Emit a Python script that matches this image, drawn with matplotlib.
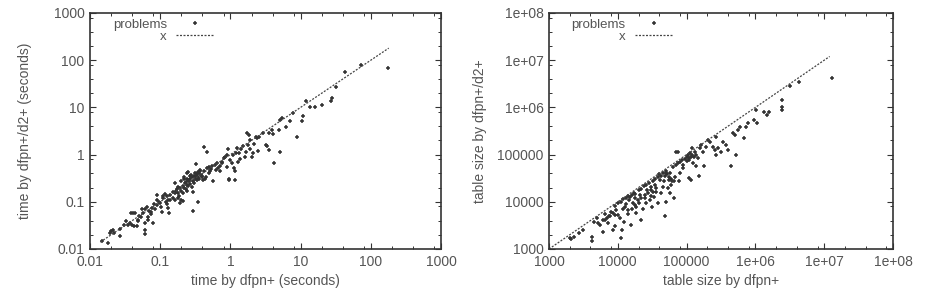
import matplotlib
matplotlib.use("Agg")
import matplotlib.pyplot as plt
from matplotlib.ticker import LogLocator, NullFormatter

# ---------------- data: left panel (time, seconds) ----------------
time_dfpn = [
    0.015, 0.018, 0.019, 0.020, 0.021, 0.022, 0.027, 0.027, 0.031, 0.037,
    0.038, 0.041, 0.044, 0.040, 0.042, 0.046, 0.049, 0.053, 0.057, 0.055,
    0.060, 0.065, 0.060, 0.061, 0.061, 0.068, 0.068, 0.073, 0.077, 0.080,
    0.081, 0.089, 0.089, 0.095, 0.099, 0.101, 0.105, 0.108, 0.117, 0.124,
    0.124, 0.128, 0.132, 0.138, 0.153, 0.160, 0.172, 0.181, 0.185, 0.190,
    0.200, 0.210, 0.200, 0.220, 0.225, 0.230, 0.237, 0.243, 0.250, 0.265,
    0.275, 0.280, 0.290, 0.295, 0.310, 0.320, 0.330, 0.335, 0.350, 0.360,
    0.370, 0.375, 0.390, 0.410, 0.420, 0.460, 0.450, 0.490, 0.510, 0.570,
    0.620, 0.670, 0.720, 0.770, 0.840, 0.890, 0.910, 0.940, 0.970, 0.980,
    1.04, 1.10, 1.11, 1.15, 1.17, 1.25, 1.34, 1.37, 1.67, 1.73,
    1.85, 1.80, 2.0, 2.1, 2.2, 2.35, 2.55, 2.95, 3.2, 3.3,
    3.5, 3.6, 3.9, 4.1, 4.2, 5.0, 5.1, 5.1, 5.5, 6.2,
    7.0, 7.9, 8.9, 10.4, 10.7, 12.0, 13.5, 16.0, 20.0, 27.0,
    28.0, 32.0, 43.0, 72.0, 174.0,
    0.11, 0.13, 0.14, 0.15, 0.16, 0.17, 0.18, 0.19, 0.20, 0.21,
    0.22, 0.23, 0.24, 0.25, 0.26, 0.27, 0.28, 0.29, 0.30, 0.31,
    0.32, 0.33, 0.34, 0.35, 0.36, 0.38, 0.40, 0.42, 0.44, 0.47,
    0.50, 0.53, 0.55, 0.60, 0.30, 0.27, 0.24, 0.21, 0.18, 0.16,
    0.12, 0.09, 0.07, 0.075, 0.085, 0.05, 0.048, 0.035, 0.033,
    1.2, 1.4, 1.5, 0.75, 0.80, 0.65, 1.9, 2.4, 0.70, 0.90,
    1.3, 1.6, 2.5, 1.9, 0.22, 0.25,
]
time_d2 = [
    0.015, 0.0135, 0.022, 0.024, 0.025, 0.022, 0.019, 0.026, 0.032, 0.036,
    0.057, 0.057, 0.057, 0.032, 0.030, 0.031, 0.041, 0.047, 0.057, 0.072,
    0.072, 0.079, 0.035, 0.025, 0.021, 0.041, 0.048, 0.055, 0.073, 0.036,
    0.090, 0.110, 0.140, 0.100, 0.093, 0.079, 0.062, 0.130, 0.147, 0.130,
    0.090, 0.073, 0.057, 0.109, 0.160, 0.246, 0.190, 0.210, 0.130, 0.093,
    0.110, 0.105, 0.270, 0.340, 0.250, 0.190, 0.400, 0.230, 0.290, 0.350,
    0.370, 0.210, 0.065, 0.160, 0.400, 0.630, 0.340, 0.290, 0.100, 0.400,
    0.470, 0.440, 0.340, 0.290, 1.470, 1.150, 0.340, 0.400, 0.440, 0.270,
    0.480, 0.520, 0.560, 0.660, 0.910, 1.000, 1.330, 0.300, 0.290, 0.770,
    0.66, 1.00, 0.52, 0.45, 0.29, 1.36, 1.09, 0.80, 1.15, 2.8,
    2.6, 1.6, 0.91, 1.1, 1.7, 2.4, 2.4, 2.8, 1.6, 1.5,
    1.27, 2.9, 3.4, 2.7, 0.66, 3.3, 5.5, 1.15, 6.1, 3.9,
    5.1, 7.5, 2.4, 5.1, 6.5, 13.7, 10.0, 10.0, 11.0, 14.0,
    16.0, 27.0, 55.0, 80.0, 68.0,
    0.12, 0.11, 0.14, 0.12, 0.15, 0.17, 0.15, 0.20, 0.17, 0.22,
    0.20, 0.26, 0.30, 0.22, 0.28, 0.31, 0.33, 0.27, 0.35, 0.30,
    0.36, 0.38, 0.33, 0.42, 0.31, 0.37, 0.36, 0.45, 0.30, 0.52,
    0.55, 0.50, 0.58, 0.60, 0.25, 0.24, 0.17, 0.15, 0.12, 0.11,
    0.10, 0.085, 0.065, 0.060, 0.070, 0.050, 0.040, 0.033, 0.040,
    1.1, 1.3, 1.5, 0.70, 0.85, 0.65, 2.0, 2.3, 0.45, 0.55,
    0.70, 0.90, 1.2, 1.3, 0.30, 0.42,
]

# ---------------- data: right panel (table size) ----------------
size_dfpn = [
    2000, 2100, 2280, 2730, 3100, 4250, 4250, 5150, 6100, 6450,
    7200, 7600, 8500, 9500, 10000, 10900, 11300, 11700, 12200, 12600,
    13300, 14100, 14500, 15700, 16600, 17500, 18100, 18600, 19600, 20800,
    21900, 23300, 24500, 26000, 27400, 29000, 30800, 31800, 33300, 34400,
    36200, 38100, 40500, 42600, 44800, 47100, 48600, 49700, 50900, 53400,
    55300, 56500, 59900, 63400, 64900, 67200, 71300, 75500, 78400, 81300,
    89000, 100000, 105000, 110000, 113000, 117000, 121000, 124000, 131000, 135000,
    139000, 147000, 155000, 163000, 172000, 182000, 193000, 204000, 216000, 242000,
    256000, 265000, 271000, 287000, 320000, 338000, 377000, 399000, 446000, 472000,
    500000, 528000, 559000, 592000, 678000, 741000, 784000, 970000, 1020000, 1050000,
    1320000, 1480000, 1600000, 2400000, 2400000, 2400000, 3200000, 4300000, 12900000,
    9000, 10000, 11000, 12000, 13000, 14000, 15000, 16000, 17000, 18000,
    20000, 22000, 24000, 26000, 28000, 30000, 32000, 35000, 38000, 40000,
    42000, 45000, 48000, 50000, 52000, 55000, 58000, 60000, 62000, 65000,
    70000, 75000, 80000, 85000, 90000, 95000, 100000, 110000, 120000, 130000,
    25000, 27000, 30000, 33000, 36000, 22000, 20000, 18000, 16000, 14000,
    12000, 9000, 8000, 7500, 7000, 6500, 6000, 5500, 5000, 4500,
    8500, 9000, 110000, 117000, 150000,
]
size_d2 = [
    1750, 1600, 1820, 2150, 2530, 1770, 1500, 3500, 2330, 4100,
    3500, 4900, 5700, 6700, 5300, 4500, 1700, 2500, 3800, 7900,
    9000, 6700, 10900, 3200, 9300, 11900, 7900, 5700, 10900, 14000,
    4100, 7200, 11900, 9300, 15200, 10900, 17900, 7900, 12900, 23000,
    16400, 9300, 29000, 15200, 21000, 27000, 4900, 10100, 40000, 19500,
    29000, 15200, 23000, 55600, 11900, 34000, 115000, 115000, 27000, 40000,
    51000, 91000, 98000, 77000, 106000, 91000, 137000, 65000, 116000, 56000,
    98000, 84000, 137000, 160000, 116000, 56000, 148000, 205000, 189000, 148000,
    126000, 98000, 241000, 137000, 116000, 189000, 160000, 126000, 58000, 283000,
    262000, 98000, 333000, 390000, 223000, 390000, 460000, 541000, 885000, 460000,
    780000, 690000, 800000, 1450000, 1040000, 890000, 2800000, 3400000, 4200000,
    8000, 9500, 10000, 11500, 12000, 13000, 12500, 14000, 15000, 14500,
    18000, 19000, 22000, 23000, 25000, 21000, 27000, 30000, 33000, 38000,
    36000, 40000, 35000, 45000, 38000, 33000, 40000, 30000, 28000, 27000,
    60000, 65000, 70000, 75000, 60000, 80000, 72000, 85000, 100000, 90000,
    14000, 18000, 13000, 16000, 20000, 12000, 9500, 8500, 7000, 5500,
    7000, 5200, 6000, 5000, 4500, 5500, 4200, 3200, 4500, 3800,
    2500, 3000, 32000, 29000, 35000,
]

# reference diagonal y = x (ranges)
diag_time = [0.014, 180]
diag_size = [1000, 12000000]

left_ticks = [0.01, 0.1, 1, 10, 100, 1000]
left_ticklabels = ["0.01", "0.1", "1", "10", "100", "1000"]
right_ticks = [1e3, 1e4, 1e5, 1e6, 1e7, 1e8]
right_ticklabels = ["1000", "10000", "100000", "1e+06", "1e+07", "1e+08"]

# ---------------- styling ----------------
plt.rcParams['font.family'] = ['Liberation Sans', 'DejaVu Sans']
TXT = '#555555'
PT = '#333333'
FS = 10
LFS = 9.5

fig = plt.figure(figsize=(9.27, 2.88), dpi=100)
ax1 = fig.add_axes([90/927, 39/288, 351/927, 236/288])
ax2 = fig.add_axes([549/927, 39/288, 344/927, 236/288])


def style(ax, ticks, labels, xlabel, ylabel, ylab_x):
    ax.set_xscale('log')
    ax.set_yscale('log')
    ax.set_xlim(ticks[0], ticks[-1])
    ax.set_ylim(ticks[0], ticks[-1])
    for axis in (ax.xaxis, ax.yaxis):
        axis.set_minor_locator(LogLocator(base=10, subs=(2, 4, 8), numticks=20))
        axis.set_minor_formatter(NullFormatter())
    ax.set_xticks(ticks)
    ax.set_xticklabels(labels)
    ax.set_yticks(ticks)
    ax.set_yticklabels(labels)
    ax.tick_params(which='both', direction='in', top=True, right=True,
                   colors='#333333', labelcolor=TXT, labelsize=FS)
    ax.tick_params(which='major', length=4, width=0.8, pad=4)
    ax.tick_params(which='minor', length=2.5, width=0.7)
    for s in ax.spines.values():
        s.set_linewidth(1.2)
        s.set_color('#333333')
    ax.set_xlabel(xlabel, fontsize=FS, color=TXT, labelpad=4)
    ax.set_ylabel(ylabel, fontsize=FS, color=TXT)
    ax.yaxis.set_label_coords(ylab_x, 0.5)


def draw(ax, xs, ys, diag):
    ax.plot(xs, ys, linestyle='none', marker='+', markersize=3.0,
            markeredgewidth=1.1, color=PT, label='problems')
    ax.plot(diag, diag, linestyle=(0, (1.6, 1.2)), linewidth=0.9,
            color='#444444', label='x')
    leg = ax.legend(loc='upper left', markerfirst=False, frameon=False,
                    fontsize=LFS, handlelength=2.9, handletextpad=0.7,
                    labelspacing=0.0, borderaxespad=0.0,
                    bbox_to_anchor=(0.05, 1.0))
    for t in leg.get_texts():
        t.set_color(TXT)


draw(ax1, time_dfpn, time_d2, diag_time)
style(ax1, left_ticks, left_ticklabels, 'time by dfpn+ (seconds)',
      'time by dfpn+/d2+ (seconds)', -0.165)

draw(ax2, size_dfpn, size_d2, diag_size)
style(ax2, right_ticks, right_ticklabels, 'table size by dfpn+',
      'table size by dfpn+/d2+', -0.18)

fig.savefig('out.png', dpi=100)
